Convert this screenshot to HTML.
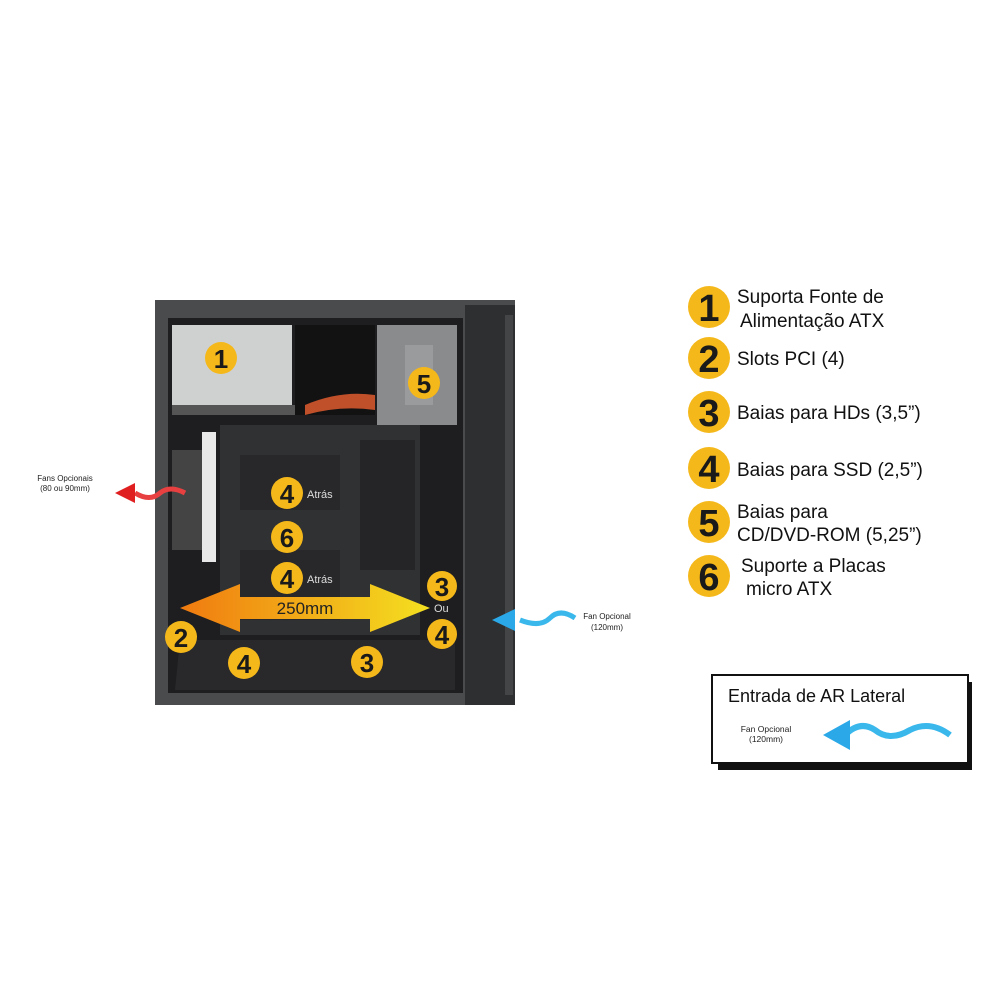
<!DOCTYPE html>
<html><head><style>
body{margin:0;background:#fff;}
svg text{font-family:"Liberation Sans",sans-serif;}
</style></head><body>
<svg width="1000" height="1000" viewBox="0 0 1000 1000" xmlns="http://www.w3.org/2000/svg">
<rect width="1000" height="1000" fill="#fff"/>
<defs>
<linearGradient id="ar" x1="0" x2="1"><stop offset="0" stop-color="#f07a10"/><stop offset="1" stop-color="#f4e020"/></linearGradient>
</defs>
<rect x="155" y="300" width="360" height="405" fill="#4a4b4d"/>
<rect x="465" y="305" width="50" height="400" fill="#2e2f31"/>
<rect x="505" y="315" width="8" height="380" fill="#444547"/>
<rect x="168" y="318" width="295" height="375" fill="#1e1e20"/>
<rect x="172" y="325" width="120" height="85" fill="#cfd0d0"/>
<rect x="172" y="405" width="130" height="10" fill="#555"/>
<rect x="295" y="325" width="80" height="90" fill="#121212"/>
<path d="M305 405 Q340 390 375 395 L375 410 Q340 405 305 415Z" fill="#c0502a"/>
<rect x="377" y="325" width="80" height="100" fill="#8a8b8d"/>
<rect x="405" y="345" width="28" height="60" fill="#9a9b9d"/>
<rect x="220" y="425" width="200" height="210" fill="#303133"/>
<rect x="240" y="455" width="100" height="55" fill="#28282a"/>
<rect x="240" y="550" width="100" height="70" fill="#28282a"/>
<rect x="360" y="440" width="55" height="130" fill="#252527"/>
<rect x="172" y="450" width="30" height="100" fill="#444"/>
<rect x="202" y="432" width="14" height="130" fill="#e8e8e8"/>
<path d="M180 640 L455 640 L455 690 L175 690Z" fill="#29292b"/>
<polygon points="180,608 240,584 240,597 370,597 370,584 430,608 370,632 370,619 240,619 240,632" fill="url(#ar)"/>
<text x="305" y="614" font-size="17" text-anchor="middle" fill="#222">250mm</text>
<g font-size="26" font-weight="bold" text-anchor="middle" fill="#1a1a1a">
<circle cx="221" cy="358" r="16" fill="#f5b81a"/><text x="221" y="368">1</text>
<circle cx="424" cy="383" r="16" fill="#f5b81a"/><text x="424" y="393">5</text>
<circle cx="287" cy="493" r="16" fill="#f5b81a"/><text x="287" y="503">4</text>
<circle cx="287" cy="537" r="16" fill="#f5b81a"/><text x="287" y="547">6</text>
<circle cx="287" cy="578" r="16" fill="#f5b81a"/><text x="287" y="588">4</text>
<circle cx="442" cy="586" r="15" fill="#f5b81a"/><text x="442" y="596">3</text>
<circle cx="442" cy="634" r="15" fill="#f5b81a"/><text x="442" y="644">4</text>
<circle cx="181" cy="637" r="16" fill="#f5b81a"/><text x="181" y="647">2</text>
<circle cx="244" cy="663" r="16" fill="#f5b81a"/><text x="244" y="673">4</text>
<circle cx="367" cy="662" r="16" fill="#f5b81a"/><text x="367" y="672">3</text>
</g>
<g font-size="11" fill="#ddd"><text x="307" y="498">Atrás</text><text x="307" y="583">Atrás</text><text x="434" y="612">Ou</text></g>
<path d="M185 493 Q170 485 160 493 Q150 502 135 493" stroke="#e84040" stroke-width="5" fill="none"/>
<polygon points="115,493 135,483 135,503" fill="#e02020"/>
<text x="65" y="481" font-size="8" text-anchor="middle" fill="#222">Fans Opcionais</text>
<text x="65" y="491" font-size="8" text-anchor="middle" fill="#222">(80 ou 90mm)</text>
<path d="M575 618 Q560 608 550 618 Q540 628 520 620" stroke="#3ab8ec" stroke-width="5" fill="none"/>
<polygon points="492,620 515,609 515,631" fill="#2aa8e8"/>
<text x="607" y="619" font-size="8" text-anchor="middle" fill="#222">Fan Opcional</text>
<text x="607" y="630" font-size="8" text-anchor="middle" fill="#222">(120mm)</text>
<g font-size="38" font-weight="bold" text-anchor="middle" fill="#1a1a1a">
<circle cx="709" cy="307" r="21" fill="#f5b81a"/><text x="709" y="321">1</text>
<circle cx="709" cy="358" r="21" fill="#f5b81a"/><text x="709" y="372">2</text>
<circle cx="709" cy="412" r="21" fill="#f5b81a"/><text x="709" y="426">3</text>
<circle cx="709" cy="468" r="21" fill="#f5b81a"/><text x="709" y="482">4</text>
<circle cx="709" cy="522" r="21" fill="#f5b81a"/><text x="709" y="536">5</text>
<circle cx="709" cy="576" r="21" fill="#f5b81a"/><text x="709" y="590">6</text>
</g>
<g font-size="19" fill="#111">
<text x="737" y="303">Suporta Fonte de</text><text x="740" y="327">Alimentação ATX</text>
<text x="737" y="365">Slots PCI (4)</text>
<text x="737" y="419">Baias para HDs (3,5”)</text>
<text x="737" y="476">Baias para SSD (2,5”)</text>
<text x="737" y="518">Baias para</text><text x="737" y="541">CD/DVD-ROM (5,25”)</text>
<text x="741" y="572">Suporte a Placas</text><text x="746" y="595">micro ATX</text>
</g>
<rect x="718" y="682" width="254" height="88" fill="#111"/>
<rect x="712" y="675" width="256" height="88" fill="#fff" stroke="#111" stroke-width="2"/>
<text x="728" y="702" font-size="18" fill="#111">Entrada de AR Lateral</text>
<text x="766" y="732" font-size="8.5" text-anchor="middle" fill="#222">Fan Opcional</text>
<text x="766" y="742" font-size="8.5" text-anchor="middle" fill="#222">(120mm)</text>
<path d="M950 735 Q930 720 910 730 Q890 742 875 730 Q860 720 845 735" stroke="#3ab8ec" stroke-width="6" fill="none"/>
<polygon points="823,735 850,720 850,750" fill="#2aa8e8"/>
</svg>
</body></html>
